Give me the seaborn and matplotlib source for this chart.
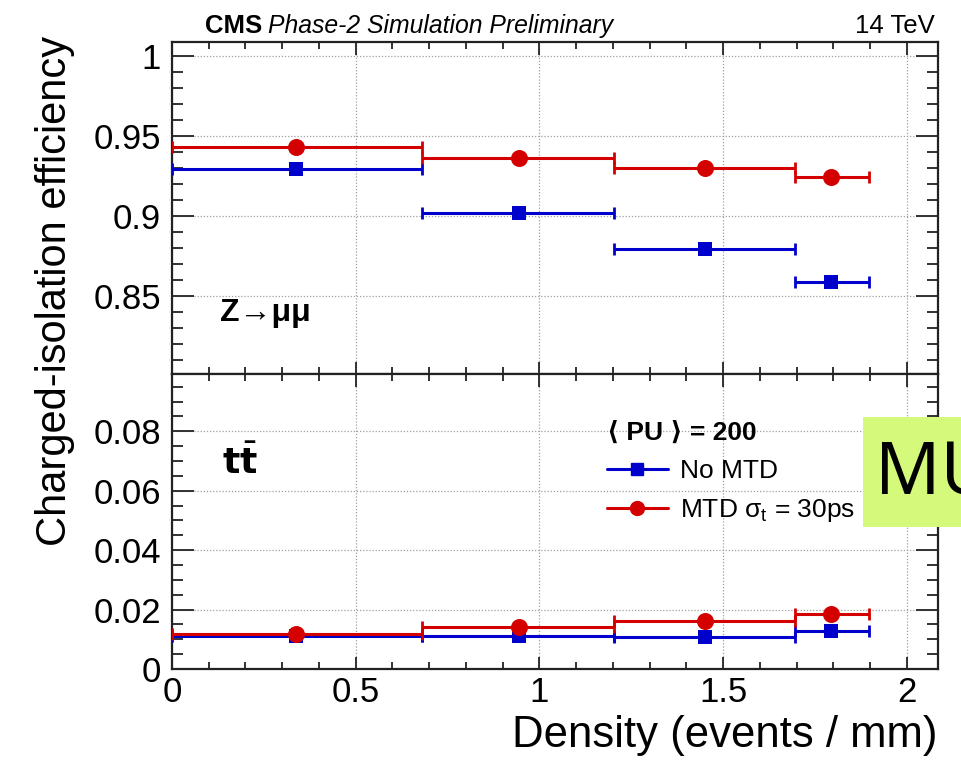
import numpy as np
import matplotlib
matplotlib.use("Agg")
import matplotlib.pyplot as plt
from matplotlib.lines import Line2D
from matplotlib.ticker import MultipleLocator, FormatStrFormatter
import seaborn as sns

# Density bins (events / mm) and the mean density of each bin
bin_low = [0.0, 0.681, 1.203, 1.696]
bin_high = [0.681, 1.203, 1.696, 1.897]
density = [0.337, 0.944, 1.450, 1.795]

# Charged-isolation efficiency, Z -> mu mu (prompt muons)
zmm_no_mtd = [0.9295, 0.902, 0.8795, 0.8585]
zmm_mtd = [0.9430, 0.9362, 0.9302, 0.9243]

# Charged-isolation efficiency, ttbar (non-prompt muons)
tt_no_mtd = [0.0110, 0.0110, 0.0107, 0.0128]
tt_mtd = [0.0118, 0.0143, 0.0161, 0.0184]

series_labels = ["No MTD", "MTD \u03c3$_\\mathregular{t}$ = 30ps"]
legend_header = "\u27e8 PU \u27e9 = 200"

sns.set_theme(style="ticks")
plt.rcParams["font.family"] = ["Liberation Sans", "DejaVu Sans"]
plt.rcParams["mathtext.fontset"] = "dejavusans"
plt.rcParams["text.color"] = "black"
plt.rcParams["axes.labelcolor"] = "black"
plt.rcParams["xtick.color"] = "black"
plt.rcParams["ytick.color"] = "black"

BLUE = "#0000cc"
RED = "#d40000"

W, H = 961, 760
fig = plt.figure(figsize=(W / 100, H / 100), dpi=100)
fig.patch.set_facecolor("white")

left, right = 172, 938
top_y0, mid_y, bot_y1 = 42, 374, 669
ax_top = fig.add_axes([left / W, 1 - mid_y / H, (right - left) / W, (mid_y - top_y0) / H])
ax_bot = fig.add_axes([left / W, 1 - bot_y1 / H, (right - left) / W, (bot_y1 - mid_y) / H])

x = np.array(density)
lo = np.array(bin_low)
hi = np.array(bin_high)
xerr = [x - lo, hi - x]


def draw_panel(ax, no_mtd, mtd):
    for vals, color, marker, size in [(no_mtd, BLUE, "s", 110), (mtd, RED, "o", 150)]:
        ax.errorbar(x, vals, xerr=xerr, fmt="none", ecolor=color,
                    elinewidth=2.2, capsize=4.5, capthick=2.0, zorder=3)
        sns.scatterplot(x=x, y=vals, ax=ax, color=color, marker=marker, s=size,
                        edgecolor=color, linewidth=0, zorder=4, legend=False)
    ax.set_facecolor("white")
    ax.set_xlim(0, 2.085)
    ax.xaxis.set_major_locator(MultipleLocator(0.5))
    ax.xaxis.set_minor_locator(MultipleLocator(0.1))
    ax.grid(True, which="major", linestyle=(0, (1, 1.5)), color="#a0a0a0", linewidth=0.9)
    ax.set_axisbelow(True)
    ax.tick_params(which="both", direction="in", top=True, right=True,
                   colors="#222222", labelcolor="black", labelsize=25, width=1.3)
    ax.tick_params(axis="y", which="major", length=16, pad=8)
    ax.tick_params(axis="y", which="minor", length=8)
    ax.tick_params(axis="x", which="major", length=9)
    ax.tick_params(axis="x", which="minor", length=5)
    for sp in ax.spines.values():
        sp.set_color("#222222")
        sp.set_linewidth(1.6)
        sp.set_visible(True)
    ax.set_xlabel("")
    ax.set_ylabel("")


draw_panel(ax_top, zmm_no_mtd, zmm_mtd)
ax_top.set_ylim(0.801, 1.009)
ax_top.yaxis.set_major_locator(MultipleLocator(0.05))
ax_top.yaxis.set_minor_locator(MultipleLocator(0.01))
ax_top.yaxis.set_major_formatter(FormatStrFormatter("%g"))
ax_top.tick_params(labelbottom=False)

draw_panel(ax_bot, tt_no_mtd, tt_mtd)
ax_bot.set_ylim(0, 0.0993)
ax_bot.yaxis.set_major_locator(MultipleLocator(0.02))
ax_bot.yaxis.set_minor_locator(MultipleLocator(0.005))
ax_bot.yaxis.set_major_formatter(FormatStrFormatter("%g"))
ax_bot.xaxis.set_major_formatter(FormatStrFormatter("%g"))
ax_bot.tick_params(axis="x", pad=5)

# Axis titles
fig.text(55 / W, 1 - 36 / H, "Charged-isolation efficiency", rotation=90,
         ha="center", va="top", fontsize=30)
fig.text(938 / W, 1 - 735 / H, "Density (events / mm)", ha="right", va="center",
         fontsize=31.5)

# Header
fig.text(205 / W, 1 - 33 / H, "CMS", fontweight="bold", fontsize=18.5, va="baseline")
fig.text(268 / W, 1 - 33 / H, "Phase-2 Simulation Preliminary", style="italic",
         fontsize=17.8, va="baseline")
fig.text(935 / W, 1 - 33 / H, "14 TeV", ha="right", fontsize=18.5, va="baseline")

# Process labels
fig.text(220 / W, 1 - 321 / H, "Z\u2192\u03bc\u03bc", fontweight="bold", fontsize=23,
         va="baseline")
fig.text(222 / W, 1 - 474 / H, r"$\mathbf{t}\bar{\mathbf{t}}$", fontsize=26,
         va="baseline")

# Legend
handles = [
    Line2D([], [], color=BLUE, marker="s", markersize=9, linewidth=2.2),
    Line2D([], [], color=RED, marker="o", markersize=10, linewidth=2.2),
]
leg = fig.legend(handles, series_labels, loc="upper left",
                 bbox_to_anchor=(607 / W, 1 - 421 / H), frameon=False, fontsize=19,
                 title=legend_header, title_fontproperties={"weight": "bold", "size": 19},
                 alignment="left", handlelength=2.3, handletextpad=0.45,
                 labelspacing=0.55, borderaxespad=0, borderpad=0)
leg._legend_box.sep = 10

# Highlight tag at the right edge
tag = fig.add_axes([863 / W, 1 - 527 / H, (W - 863) / W, (527 - 417) / H])
tag.set_facecolor("#d5f97a")
tag.set_xticks([])
tag.set_yticks([])
for sp in tag.spines.values():
    sp.set_visible(False)
t = tag.text(0.12, 0.47, "MU", transform=tag.transAxes, fontsize=52,
             family=["Noto Sans", "DejaVu Sans"], ha="left", va="center", color="black")
t.set_clip_on(True)

fig.savefig("out.png", dpi=100)
